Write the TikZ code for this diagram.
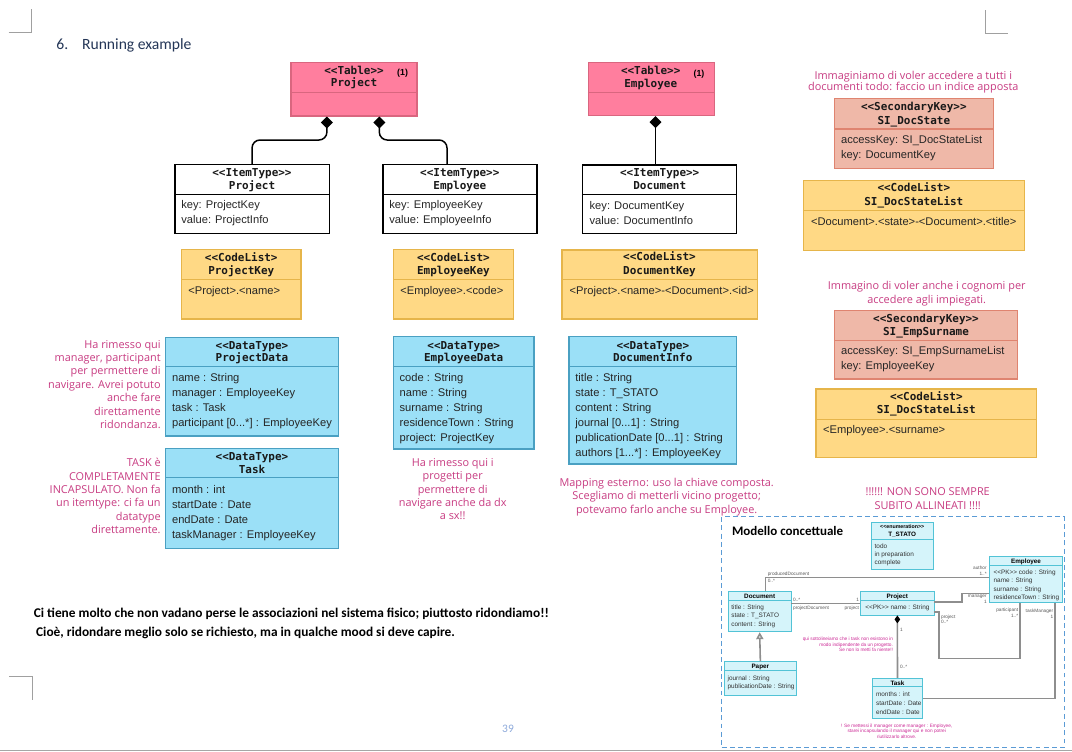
\documentclass[tikz,border=0pt]{standalone}
\usepackage{fontspec}
\setmainfont{Liberation Sans}
\newfontfamily\hdrf{DejaVu Sans Mono}
\newfontfamily\notef{Open Sans}
\newfontfamily\carl{Carlito}
\usetikzlibrary{fit,arrows.meta}
\definecolor{tblF}{HTML}{FF7E9E}
\definecolor{tblD}{HTML}{D9667F}
\definecolor{clF}{HTML}{FFD985}
\definecolor{clD}{HTML}{E6B54A}
\definecolor{skF}{HTML}{EFB8A8}
\definecolor{skD}{HTML}{DF8470}
\definecolor{dtF}{HTML}{9BE0F7}
\definecolor{dtD}{HTML}{4AA0C2}
\definecolor{noteC}{HTML}{C83C82}
\definecolor{headC}{HTML}{243657}
\definecolor{pgC}{HTML}{8EAADB}
\definecolor{inF}{HTML}{D5F4FA}
\definecolor{inD}{HTML}{52C3D6}
\definecolor{dashC}{HTML}{5B9BD5}
\definecolor{assocC}{HTML}{8E8E8E}
\definecolor{inNote}{HTML}{CC2A96}
\definecolor{markC}{HTML}{A0A0A0}
\newcommand\dlt{\textless\kern0pt\textless\kern0pt}
\newcommand\dgt{\textgreater\kern0pt\textgreater}
\newcommand\sta[1]{\dlt #1\dgt}
\newcommand\stb[1]{\dlt #1\textgreater}
\newcommand\ubox[5]{\node[#2, fit={(#3) (#4)}] (#1) {};
  \draw[#2, fill=none] (#1.west |- 0,#5) -- (#1.east |- 0,#5);}
\newcommand\blines[5]{\foreach \bl [count=\bi from 0] in {#5} {\node[#1] at (#2,{#3+\bi*#4}) {\bl};}}
\tikzset{
 every node/.style={inner sep=0pt},
 tbl/.style={draw=tblD, fill=tblF, line width=0.6pt},
 itm/.style={draw=black, fill=white, line width=0.85pt},
 cl/.style={draw=clD, fill=clF, line width=0.6pt},
 sk/.style={draw=skD, fill=skF, line width=0.6pt},
 dt/.style={draw=dtD, fill=dtF, line width=0.6pt},
 ib/.style={draw=inD, fill=inF, line width=0.5pt},
 hdr/.style={font=\hdrf\bfseries\fontsize{6.24}{7}\selectfont, anchor=base, text=black!90},
 bt/.style={font=\fontsize{6.35}{8.5}\selectfont, anchor=base west, text=black!85},
 nt/.style={font=\notef\fontsize{6.2}{7.6}\selectfont, text=noteC},
 ntr/.style={nt, anchor=base east},
 ntc/.style={nt, anchor=base},
 one/.style={font=\bfseries\fontsize{5}{6}\selectfont, anchor=base},
 ih/.style={font=\bfseries\fontsize{3.6}{4}\selectfont, anchor=base},
 ibt/.style={font=\fontsize{3.65}{4.5}\selectfont, anchor=base west, text=black!80},
 lab/.style={font=\fontsize{2.7}{3}\selectfont, text=black!65},
 labl/.style={lab, anchor=base west},
 labr/.style={lab, anchor=base east},
 conn/.style={draw=black, line width=0.85pt, rounded corners=4.5pt},
 assoc/.style={draw=assocC, line width=0.9pt},
 inn/.style={font=\fontsize{2.7}{3}\selectfont, text=inNote},
 head/.style={font=\carl\fontsize{8.9}{10}\selectfont, text=headC, anchor=base west},
 bold/.style={font=\carl\bfseries\fontsize{7.6}{8}\selectfont, anchor=base west},
}
\begin{document}
\begin{tikzpicture}[x=0.02cm,y=-0.02cm]
\useasboundingbox (0,0) rectangle (1072,751);
\fill[white] (0,0) rectangle (1072,751);
% page marks
\draw[markC, line width=0.5pt] (8.7,32.3) -- (31.7,32.3) -- (31.7,9);
\draw[markC, line width=0.5pt] (985,10) -- (985,33) -- (1008,33);
\draw[markC, line width=0.5pt] (9,676) -- (32,676) -- (32,700);
\draw[black!35, line width=0.5pt] (0,750) -- (1072,750);
% heading
\node[head] (h6) at (56,49) {6.};
\node[head] (hrun) at (81.7,49) {Running example};
% tables
\ubox{tP}{tbl}{291,62.3}{417,116}{92.7}
\node[hdr] (tPs) at (354,74) {\sta{Table}};
\node[hdr] (tPn) at (354,86.7) {Project};
\node[one] (tP1) at (402.6,75.7) {(1)};
\ubox{tE}{tbl}{588.3,62.3}{714.3,115.7}{92.3}
\node[hdr] (tEs) at (650.7,74.7) {\sta{Table}};
\node[hdr] (tEn) at (650.7,87.3) {Employee};
\node[one] (tE1) at (699,76.3) {(1)};
% item types
\ubox{iP}{itm}{174.8,164.7}{329.3,233.7}{194.3}
\node[hdr] (iPs) at (252,176) {\sta{ItemType}};
\node[hdr] (iPn) at (252,189) {Project};
\blines{bt}{181}{208.7}{15}{key: ProjectKey, value: ProjectInfo}
\ubox{iE}{itm}{382.8,164.7}{536.9,233.7}{194.3}
\node[hdr] (iEs) at (459.8,176) {\sta{ItemType}};
\node[hdr] (iEn) at (459.8,189) {Employee};
\blines{bt}{389}{208.7}{15}{key: EmployeeKey, value: EmployeeInfo}
\ubox{iD}{itm}{582.7,165}{736.7,233.3}{194.3}
\node[hdr] (iDs) at (659.7,176.3) {\sta{ItemType}};
\node[hdr] (iDn) at (659.7,189) {Document};
\blines{bt}{589.3}{209}{15}{key: DocumentKey, value: DocumentInfo}
% composition connectors
\coordinate (cL) at (326.9,140);
\coordinate (cR) at (379.3,140);
\draw[conn, -{Diamond[length=6.8pt,width=6.8pt]}] (iP.north) |- (cL) -- (tP.south -| cL);
\draw[conn, -{Diamond[length=6.8pt,width=6.8pt]}] (iE.north -| 447,0) |- (cR) -- (tP.south -| cR);
\draw[conn, -{Diamond[length=6.8pt,width=6.8pt]}] (iD.north -| 655.5,0) -- (tE.south -| 655.5,0);
% code lists
\ubox{cPK}{cl}{181.7,249.3}{301,319}{279.3}
\node[hdr] (cPKs) at (241.3,261) {\stb{CodeList}};
\node[hdr] (cPKn) at (241.3,274) {ProjectKey};
\node[bt] (cPKb) at (188,294) {<Project>.<name>};
\ubox{cEK}{cl}{393.8,249.3}{513.1,319}{279.3}
\node[hdr] (cEKs) at (453.4,261) {\stb{CodeList}};
\node[hdr] (cEKn) at (453.4,274) {EmployeeKey};
\node[bt] (cEKb) at (400,294) {<Employee>.<code>};
\ubox{cDK}{cl}{562,250}{757.7,319}{279.3}
\node[hdr] (cDKs) at (659.5,260.7) {\stb{CodeList}};
\node[hdr] (cDKn) at (659.5,274) {DocumentKey};
\node[bt] (cDKb) at (569.3,294) {<Project>.<name>-<Document>.<id>};
% data types
\ubox{dPD}{dt}{165.7,337.3}{338.3,436}{366.7}
\node[hdr] (dPDs) at (252,349) {\stb{DataType}};
\node[hdr] (dPDn) at (252,361.3) {ProjectData};
\node[bt] (dPD1) at (171.7,381.3) {name : String};
\node[bt] (dPD2) at (171.7,396.3) {manager : EmployeeKey};
\node[bt] (dPD3) at (171.7,411.3) {task : Task};
\node[bt] (dPD4) at (171.7,426.3) {participant [0...*] : EmployeeKey};
\ubox{dT}{dt}{165.7,448.3}{338.3,548.3}{477.7}
\node[hdr] (dTs) at (252,460.7) {\stb{DataType}};
\node[hdr] (dTn) at (252,473) {Task};
\blines{bt}{171.7}{493}{15}{month : int, startDate : Date, endDate : Date, taskManager : EmployeeKey}
\ubox{dED}{dt}{393.3,336.7}{534,449}{366.7}
\node[hdr] (dEDs) at (463.7,349) {\stb{DataType}};
\node[hdr] (dEDn) at (463.7,361.3) {EmployeeData};
\blines{bt}{399.3}{381.3}{15}{code : String, name : String, surname : String, residenceTown : String, project: ProjectKey}
\ubox{dDI}{dt}{569,336.7}{736.7,464}{366.7}
\node[hdr] (dDIs) at (652.8,349) {\stb{DataType}};
\node[hdr] (dDIn) at (652.8,361.3) {DocumentInfo};
\node[bt] (dDI1) at (575,381.3) {title : String};
\node[bt] (dDI2) at (575,396.3) {state : T\_STATO};
\node[bt] (dDI3) at (575,411.3) {content : String};
\node[bt] (dDI4) at (575,426.3) {journal [0...1] : String};
\node[bt] (dDI5) at (575,441.3) {publicationDate [0...1] : String};
\node[bt] (dDI6) at (575,456.3) {authors [1...*] : EmployeeKey};
% right column
\blines{ntc}{913.3}{79}{11.7}{Immaginiamo di voler accedere a tutti i, documenti todo: faccio un indice apposta}
\ubox{sDS}{sk}{834.3,98.7}{993.3,168.3}{129}
\node[hdr] (sDSs) at (913.8,110.7) {\sta{SecondaryKey}};
\node[hdr] (sDSn) at (913.8,124) {SI\_DocState};
\blines{bt}{840.7}{143.3}{15}{accessKey: SI\_DocStateList, key: DocumentKey}
\ubox{cDSL}{cl}{803.3,180.7}{1024.3,250.7}{210.7}
\node[hdr] (cDSLs) at (913.8,191.7) {\stb{CodeList}};
\node[hdr] (cDSLn) at (913.8,205) {SI\_DocStateList};
\node[bt] (cDSLb) at (810.7,225.7) {<Document>.<state>-<Document>.<title>};
\blines{ntc}{926.7}{289.7}{13.6}{Immagino di voler anche i cognomi per, accedere agli impiegati.}
\ubox{sES}{sk}{834.3,310.7}{1017.7,379}{340.3}
\node[hdr] (sESs) at (926,322.3) {\sta{SecondaryKey}};
\node[hdr] (sESn) at (926,335) {SI\_EmpSurname};
\blines{bt}{840.7}{354.7}{15}{accessKey: SI\_EmpSurnameList, key: EmployeeKey}
\ubox{cDSL2}{cl}{816,389}{1036.7,457.7}{419.3}
\node[hdr] (cDSL2s) at (926.3,400.7) {\stb{CodeList}};
\node[hdr] (cDSL2n) at (926.3,413.3) {SI\_DocStateList};
\node[bt] (cDSL2b) at (822.7,433.3) {<Employee>.<surname>};
\blines{ntc}{927.7}{495.7}{13.4}{!!!!!! NON SONO SEMPRE, SUBITO ALLINEATI !!!!}
% notes
\blines{ntr}{161}{348}{13.4}{Ha rimesso qui, {manager, participant}, per permettere di, navigare. Avrei potuto, anche fare, direttamente, ridondanza.}
\blines{ntr}{161}{466.7}{13.4}{TASK è, COMPLETAMENTE, INCAPSULATO. Non fa, un itemtype: ci fa un, datatype, direttamente.}
\blines{ntc}{452.7}{466.3}{13.4}{Ha rimesso qui i, progetti per, permettere di, navigare anche da dx, a sx!!}
\blines{ntc}{666.7}{486.3}{13.4}{Mapping esterno: uso la chiave composta., Scegliamo di metterli vicino progetto;, potevamo farlo anche su Employee.}
% bottom text
\node[bold] (bt1) at (33.5,617) {Ci tiene molto che non vadano perse le associazioni nel sistema fisico; piuttosto ridondiamo!!};
\node[bold] (bt2) at (35.8,636) {Cioè, ridondare meglio solo se richiesto, ma in qualche mood si deve capire.};
\node[font=\carl\fontsize{6.5}{7}\selectfont, text=pgC] (pg) at (508,729) {39};
% inset
\node[draw=dashC, line width=0.75pt, dash pattern=on 2.8pt off 1.9pt, fit={(721.7,516.7) (1064.3,747.7)}] (inset) {};
\node[font=\carl\bfseries\fontsize{7.4}{8}\selectfont, anchor=base west] (mc) at (731.7,535) {Modello concettuale};
\ubox{eT}{ib}{871,522.3}{933.3,569.3}{539}
\node[ih, font=\bfseries\fontsize{3}{3.5}\selectfont] (eTs) at (902.2,528.3) {\sta{enumeration}};
\node[ih] (eTn) at (902.2,536) {T\_STATO};
\blines{ibt}{874.3}{548}{8.4}{todo, in preparation, complete}
\ubox{cEmp}{ib}{989.3,556.7}{1062.7,602.7}{565.7}
\node[ih] (cEmpn) at (1026,563) {Employee};
\blines{ibt}{993.3}{574.5}{8.4}{\sta{PK} code : String, name : String, surname : String, residenceTown : String}
\ubox{cDoc}{ib}{728.3,591.7}{791,631.7}{600}
\node[ih] (cDocn) at (759.7,598) {Document};
\blines{ibt}{731}{609.3}{8.6}{title : String, state : T\_STATO, content : String}
\ubox{cPr}{ib}{860.7,591.7}{934,615}{600}
\node[ih] (cPrn) at (897.3,598) {Project};
\node[ibt] (cPrb) at (865,609.5) {\sta{PK} name : String};
\ubox{cPa}{ib}{724,661.7}{796.7,695.7}{670}
\node[ih] (cPan) at (760.3,668.5) {Paper};
\blines{ibt}{727.3}{680}{8.6}{journal : String, publicationDate : String}
\ubox{cTa}{ib}{872.3,678.3}{922.7,718.3}{686.7}
\node[ih] (cTan) at (897.5,685) {Task};
\blines{ibt}{875.7}{696.6}{8.7}{months : int, startDate : Date, endDate : Date}
% inset connectors
\draw[assoc] (cDoc.north -| 765.7,0) |- (cEmp.west |- 0,577.5);
\node[labl] (l1) at (767.5,575.3) {producedDocument};
\node[labl] (l2) at (767.5,582.3) {0..*};
\node[labr] (l3) at (987,569.5) {author};
\node[labr] (l4) at (987,575.5) {1..*};
\draw[assoc] (cDoc.east |- 0,603.3) -- (cPr.west |- 0,603.3);
\node[labl] (l5) at (792.8,601.6) {0..*};
\node[labl] (l6) at (792.8,609.2) {projectDocument};
\node[labr] (l7) at (859.3,601.6) {1};
\node[labr] (l8) at (859.3,609.2) {project};
\draw[assoc] (cPr.east |- 0,601.7) -| (961.7,593.3) -- (cEmp.west |- 0,593.3);
\node[labr] (l9) at (987,597.3) {manager};
\node[labr] (l10) at (987,603.3) {1};
\draw[assoc] (cPr.east |- 0,611.7) -| (939,658.3) -| (cEmp.south -| 1020,0);
\node[labl] (l11) at (940.8,618.5) {project};
\node[labl] (l12) at (940.8,623.5) {0..*};
\node[labr] (l13) at (1018.5,611.5) {participant};
\node[labr] (l14) at (1018.5,617.3) {1..*};
\draw[assoc] (cTa.east |- 0,698.3) -| (cEmp.south -| 1055,0);
\node[labr] (l15) at (1053.5,612) {taskManager};
\node[labr] (l16) at (1053.5,618) {1};
\draw[assoc, {Diamond[length=4.5pt,width=3.2pt,color=black]}-] (cPr.south) -- (cTa.north);
\node[labl] (l17) at (899.7,631) {1};
\node[labl] (l18) at (899.7,668.5) {0..*};
\draw[assoc, -{Triangle[open,length=4pt,width=4pt,fill=white]}] (cPa.north) -- (cDoc.south);
\blines{inn, anchor=base east}{893.3}{640.5}{5.7}{qui sottolineiamo che i task non esistono in, modo indipendente da un progetto., Se non lo metti fa niente!!}
\blines{inn, anchor=base}{896.7}{727}{5.7}{{! Se mettessi il manager come manager : Employee,}, starei incapsulando il manager qui e non potrei, riutilizzarlo altrove.}
\end{tikzpicture}
\end{document}
